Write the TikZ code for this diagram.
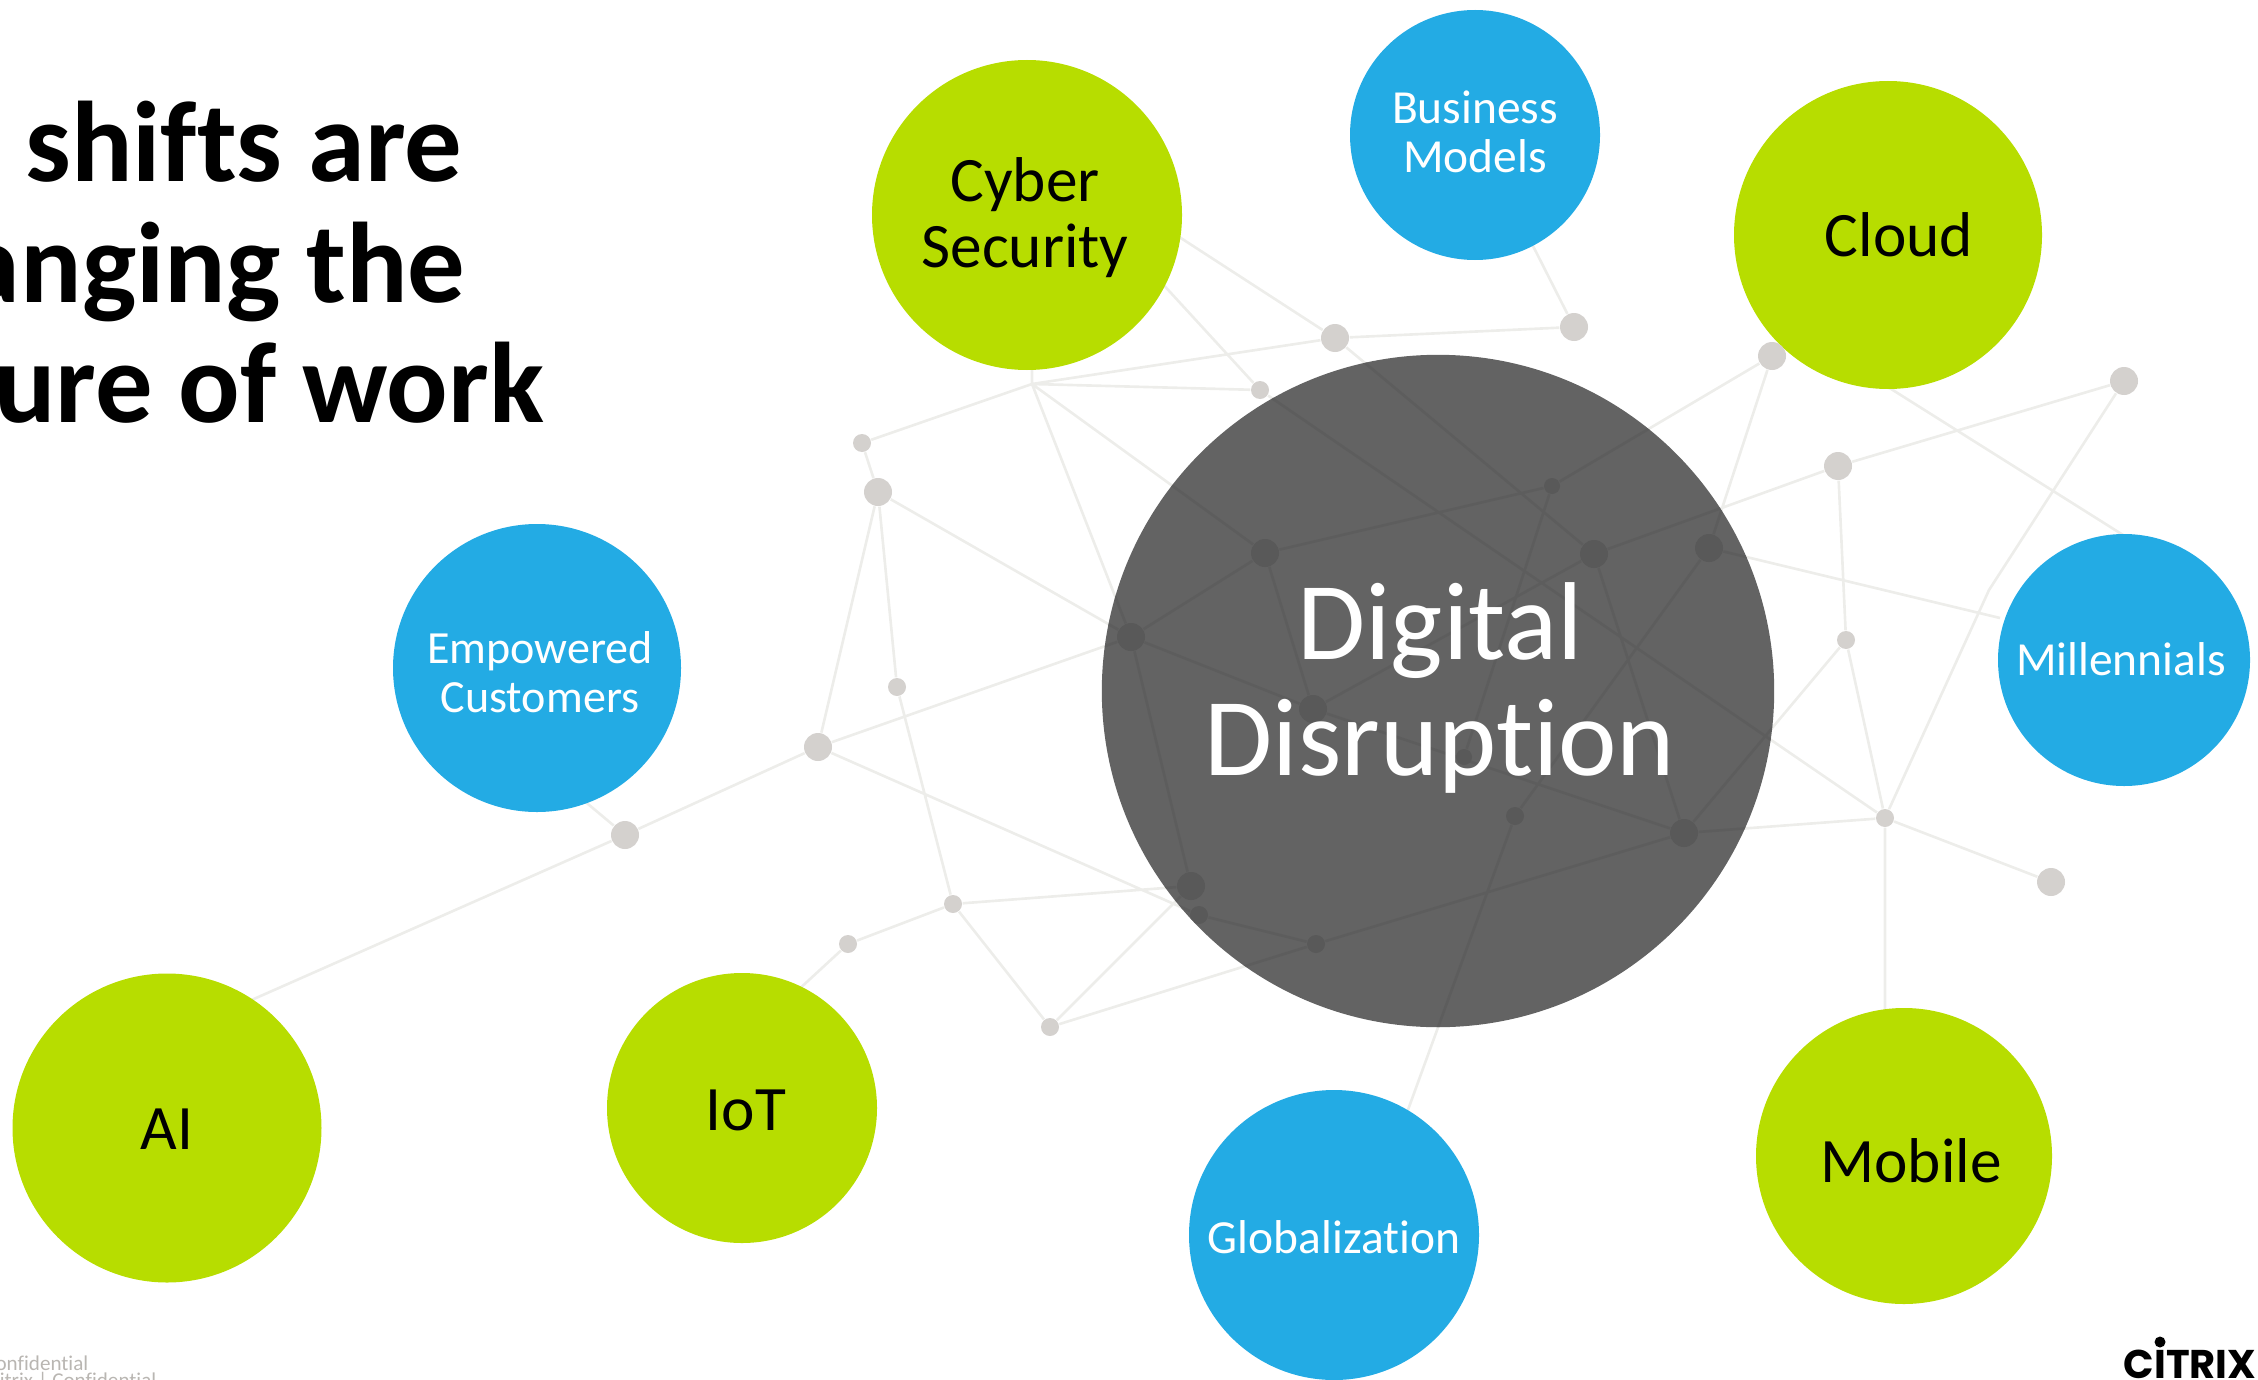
\documentclass[tikz,border=0pt]{standalone}
\usepackage{fontspec}
\setmainfont{Carlito}[Ligatures=NoCommon]
\newfontfamily\logofont{Poppins}
\definecolor{lime}{HTML}{B7DD00}
\definecolor{sky}{HTML}{23ABE4}
\definecolor{hubgray}{HTML}{636363}
\definecolor{linelight}{HTML}{EDEDEA}
\definecolor{dotlight}{HTML}{D4D1CE}
\definecolor{linedark}{HTML}{5D5D5D}
\definecolor{dotdark}{HTML}{595959}
\definecolor{footgray}{HTML}{B9B6B2}
\tikzset{
  blob/.style={circle,inner sep=0pt,text=black},
  txtbig/.style={align=center,text=black,font=\fontsize{18}{18.8}\selectfont},
  txtsmall/.style={align=center,text=white,font=\fontsize{13.5}{14}\selectfont},
  titletxt/.style={anchor=base east,inner sep=0pt,font=\fontsize{32.6}{34}\selectfont\bfseries,text=black},
  foot/.style={anchor=base east,inner sep=0pt,text=footgray,font=\fontsize{6}{7}\selectfont},
  netline/.style={line width=0.75pt},
}
\newcommand{\netedges}[1]{%
  \draw[netline,draw=#1] (x1) -- (cyberB) (x1) -- (a) (x1) -- (c) (x1) -- (x2) (x1) -- (h) (x1) -- (k)
    (x2) -- (x3) (x3) -- (x5) (x3) -- (x4) (x3) -- (k) (x4) -- (x7)
    (x5) -- (x6) (x5) -- (k) (x5) -- (t) (x6) -- (aiE) (x6) -- (empE)
    (x7) -- (s) (x7) -- (v) (x7) -- (x8) (x8) -- (iotE) (v) -- (s) (v) -- (u) (u) -- (p) (t) -- (u)
    (s) -- (k) (k) -- (h) (k) -- (m) (h) -- (g) (h) -- (m) (g) -- (d) (g) -- (n)
    (m) -- (i) (m) -- (p) (i) -- (f) (i) -- (a) (i) -- (p) (c) -- (q)
    (j) -- (d) (j) -- (millW) (f) -- (e) (f) -- (l) (e) -- (w) (w) -- (q)
    (cloudS) -- (millN) (l) -- (q) (l) -- (p) (q) -- (r) (q) -- (p) (q) -- (mobileN)
    (o) -- (j) (o) -- (globN) (bizS) -- (b) (cyberE) -- (a) (cyberSE) -- (c) (a) -- (b);}
\begin{document}
\begin{tikzpicture}[x=0.01cm,y=-0.01cm]
\useasboundingbox (0,0) rectangle (2258,1379);
\clip (0,0) rectangle (2258,1379);
\foreach \n/\px/\py/\r in {a/1335/338/14,b/1574/327/14,c/1260/390/9,d/1772/356/14,e/2124/381/14,f/1838/466/14,
  l/1846/640/9,q/1885/818/9,r/2051/882/14,v/1050/1027/9,x2/862/443/9,x3/878/492/14,x4/897/687/9,x5/818/747/14,
  x6/625/835/14,x7/953/904/9,x8/848/944/9,g/1552/486/8,h/1265/553/14,i/1594/554/14,j/1709/548/14,k/1131/637/14,
  m/1313/709/14,n/1464/757/8,o/1515/816/9,p/1684/833/14,s/1191/886/14,t/1199/915/9,u/1316/944/9}{
  \node[circle,inner sep=0pt,minimum size=2*\r*0.01cm] (\n) at (\px,\py) {};
}
\coordinate (x1) at (1032,384);
\coordinate (w) at (1989,590);
\coordinate (cyberB) at (1032,360);
\coordinate (cyberE) at (1170,231);
\coordinate (cyberSE) at (1159,280);
\coordinate (aiE) at (247,1002);
\coordinate (empE) at (582,799);
\coordinate (iotE) at (796,992);
\coordinate (globN) at (1405,1118);
\coordinate (mobileN) at (1885,1015);
\coordinate (bizS) at (1529,238);
\coordinate (cloudS) at (1880,382);
\coordinate (millN) at (2131,540);
\coordinate (millW) at (2000,618);
\node[blob,minimum size=3.10cm] (cyber) at (1027,215) {};
\node[blob,minimum size=2.50cm] (biz) at (1475,135) {};
\node[blob,minimum size=3.08cm] (cloud) at (1888,235) {};
\node[blob,minimum size=2.52cm] (mill) at (2124,660) {};
\node[blob,minimum size=2.88cm] (emp) at (537,668) {};
\node[blob,minimum size=3.09cm] (ai) at (167,1128) {};
\node[blob,minimum size=2.70cm] (iot) at (742,1108) {};
\node[blob,minimum size=2.90cm] (glob) at (1334,1235) {};
\node[blob,minimum size=2.96cm] (mobile) at (1904,1156) {};
\netedges{linelight}
\fill[lime] (cyber) circle (155);
\fill[sky] (biz) circle (125);
\fill[lime] (cloud) circle (154);
\fill[sky] (mill) circle (126);
\fill[sky] (emp) circle (144);
\fill[lime] (ai) circle (154.5);
\fill[lime] (iot) circle (135);
\fill[sky] (glob) circle (145);
\fill[lime] (mobile) circle (148);
\foreach \n/\r in {a/14,b/14,c/9,d/14,e/14,f/14,l/9,q/9,r/14,v/9,x2/9,x3/14,x4/9,x5/14,x6/14,x7/9,x8/9}{
  \fill[dotlight] (\n.center) circle (\r);
}
\node[circle,inner sep=0pt,minimum size=6.72cm,fill=hubgray] (hub) at (1438,691) {};
\begin{scope}
  \clip (1438,691) circle (336);
  \netedges{linedark}
  \foreach \n/\r in {g/8,h/14,i/14,j/14,k/14,m/14,n/8,o/9,p/14,s/14,t/9,u/9}{
    \fill[dotdark] (\n.center) circle (\r);
  }
\end{scope}
\node[align=center,text=white,font=\fontsize{31.5}{33.2}\selectfont] (hubtxt) at (1440,688) {Digital\\Disruption};
\node[txtbig] (cybertxt) at (1025,218) {Cyber\\Security};
\node[txtbig] (cloudtxt) at (1899,235) {Cloud};
\node[txtbig] (aitxt) at (167,1129) {AI};
\node[txtbig] (iottxt) at (746,1110) {IoT};
\node[txtbig] (mobiletxt) at (1911,1161) {Mobile};
\node[txtsmall] (biztxt) at (1475,132) {Business\\Models};
\node[txtsmall] (milltxt) at (2121,659) {Millennials};
\node[txtsmall,font=\fontsize{13.1}{14}\selectfont] (emptxt) at (540,672) {Empowered\\Customers};
\node[txtsmall] (globtxt) at (1334,1237) {Globalization};
\node[titletxt] (t1) at (463,182) {shifts are};
\node[titletxt] (t2) at (466,302) {changing the};
\node[titletxt] (t3) at (545,422) {future of work};
\node[foot] (f1) at (89,1370) {Confidential};
\node[foot] (f2) at (157,1387) {Citrix | Confidential};
\node[anchor=base east,inner sep=0pt,text=black,font=\logofont\bfseries\fontsize{11.4}{12}\selectfont] (logo) at (2257,1378) {CITRIX};
\fill[black] (2160,1342) circle (5.5);
\end{tikzpicture}
\end{document}
